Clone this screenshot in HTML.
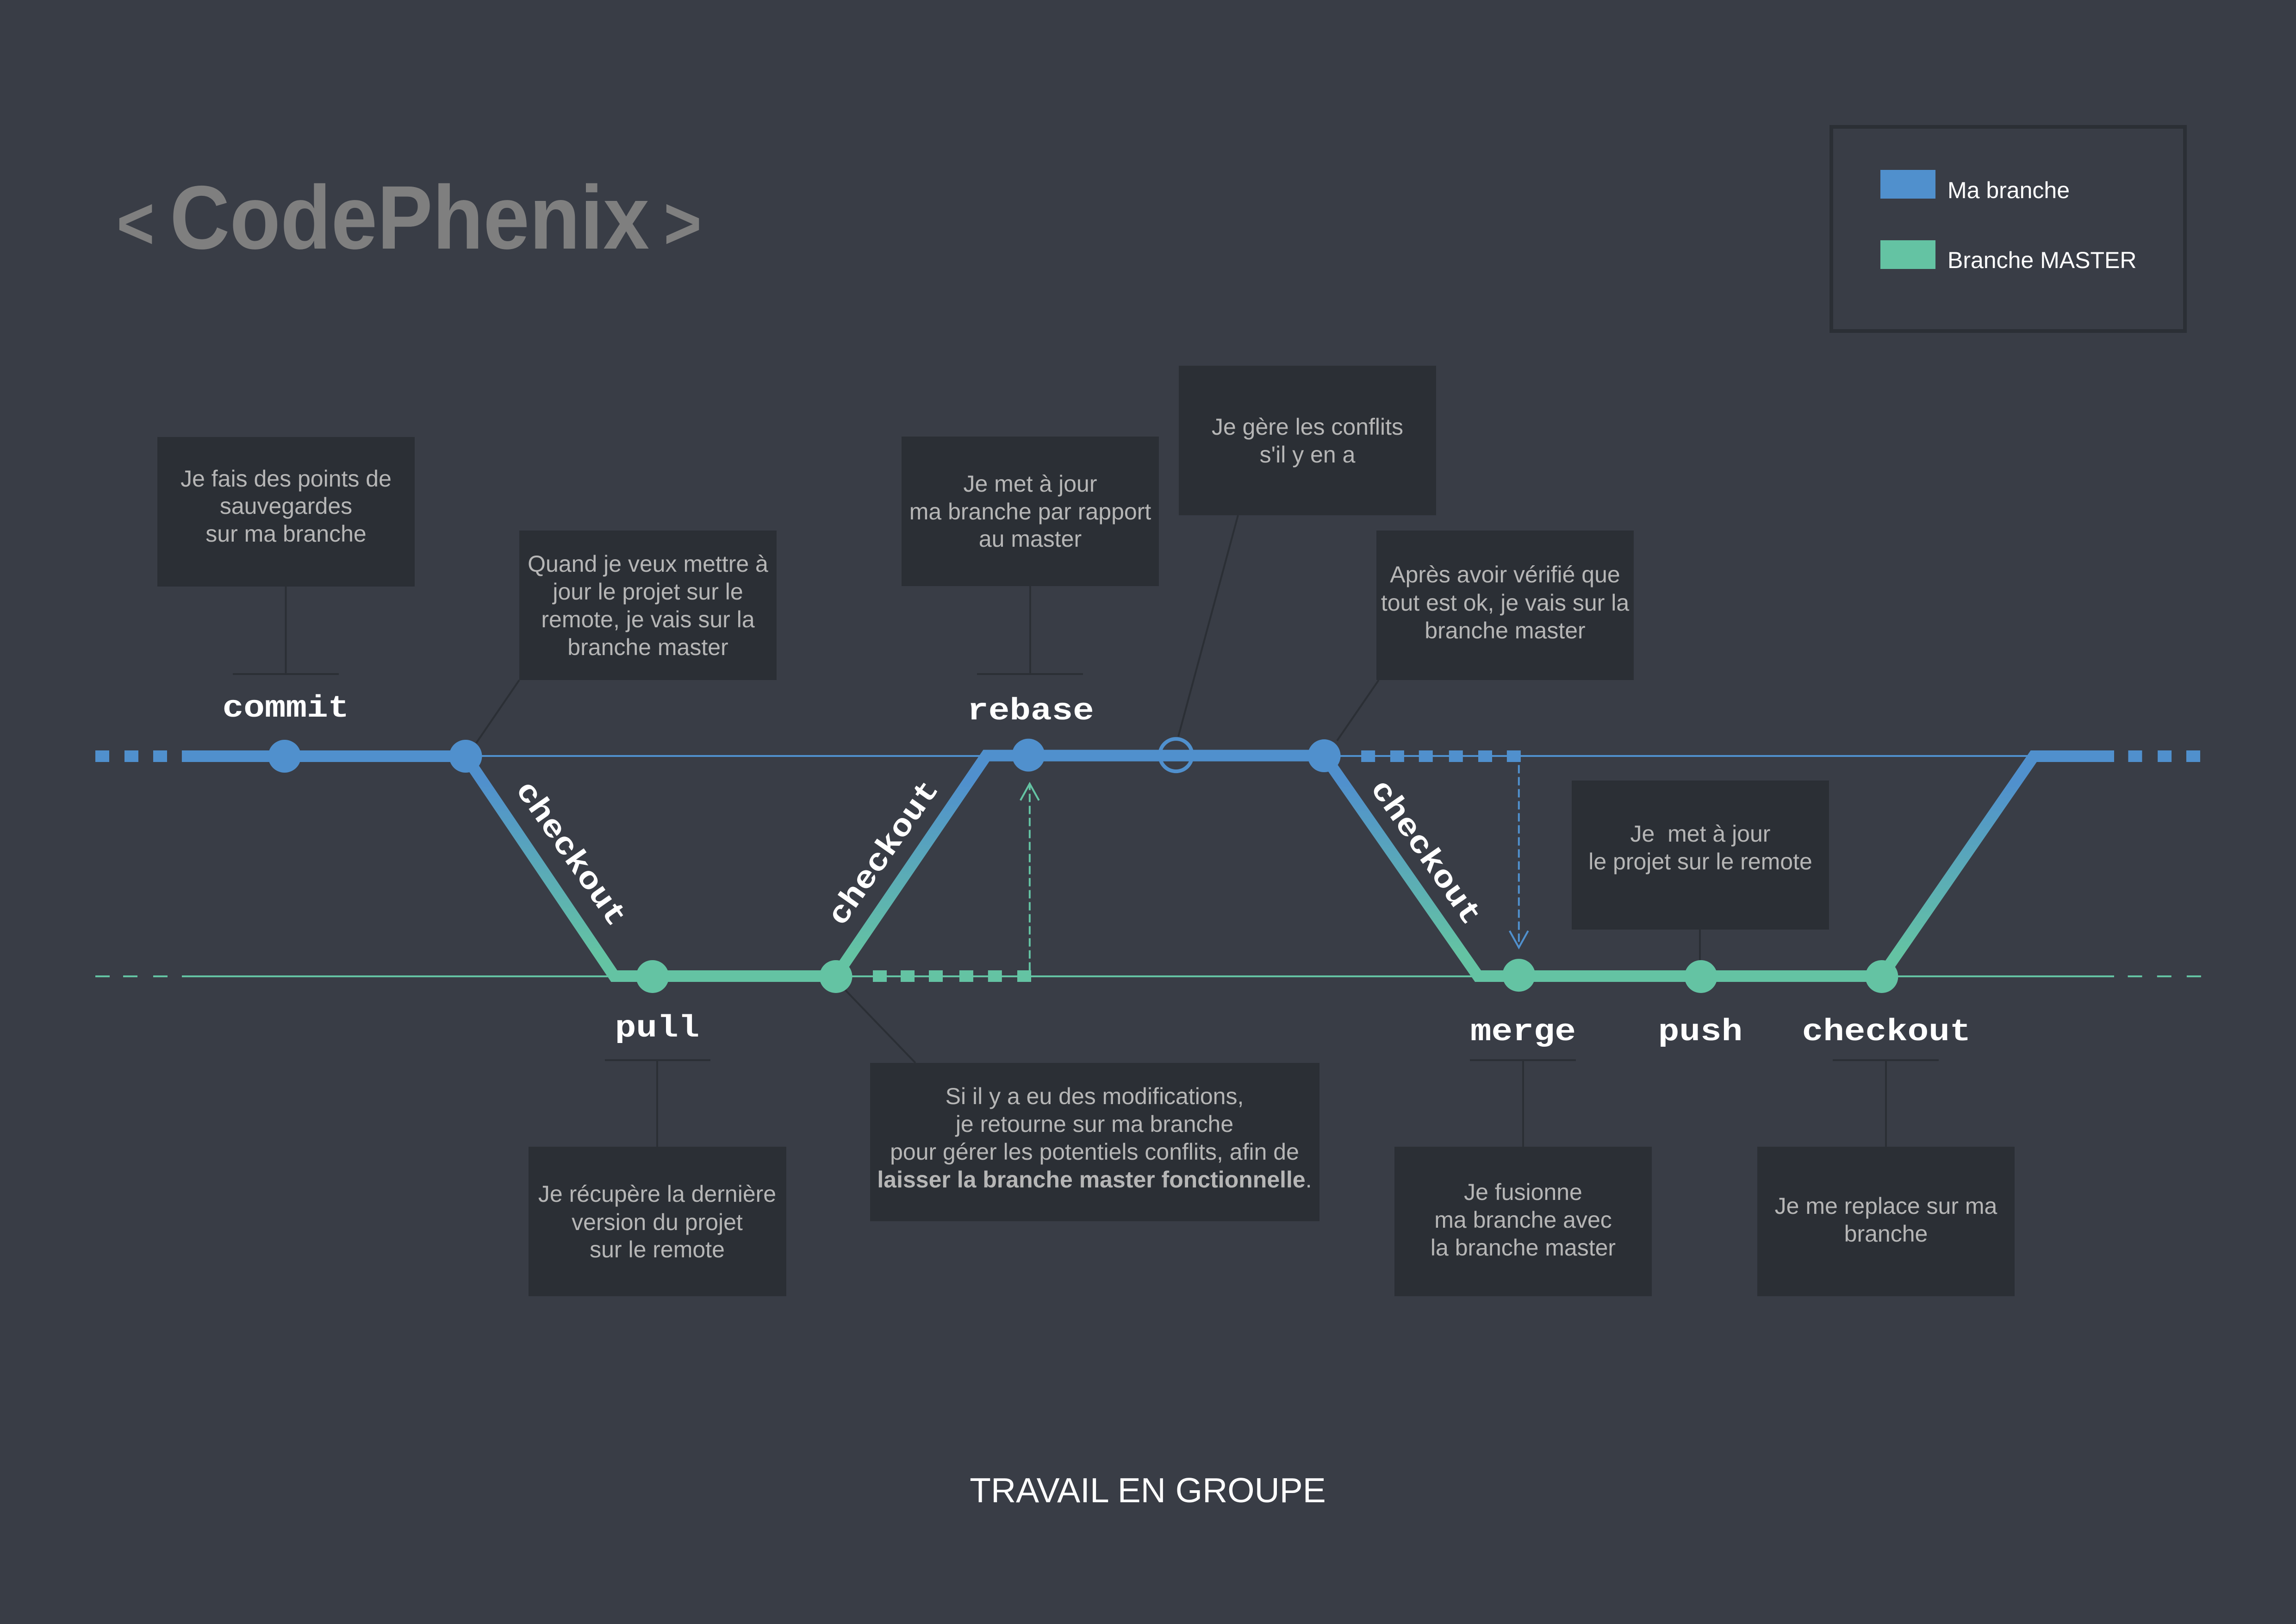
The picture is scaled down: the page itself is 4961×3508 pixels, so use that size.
<!DOCTYPE html>
<html lang="fr">
<head>
<meta charset="utf-8">
<title>Travail en groupe</title>
<style>
html,body{margin:0;padding:0;background:#393d46;}
svg{display:block;}
.note{font-family:"Liberation Sans",sans-serif;font-size:50px;fill:#b6b6b6;text-anchor:middle;white-space:pre;}
.cmd{font-family:"Liberation Mono",monospace;font-weight:bold;font-size:67px;fill:#ffffff;text-anchor:middle;}
.box{fill:#2b2f35;}
.link{stroke:#2b2f35;stroke-width:4;fill:none;}
.legend-text{font-family:"Liberation Sans",sans-serif;font-size:50px;fill:#ffffff;}
.logo{font-family:"Liberation Sans",sans-serif;font-weight:bold;fill:#7f7f7f;}
</style>
</head>
<body>
<svg id="diagram" xmlns="http://www.w3.org/2000/svg" width="4961" height="3508" viewBox="0 0 4961 3508">
  <defs>
    <linearGradient id="branchGradient" gradientUnits="userSpaceOnUse" x1="0" y1="1690" x2="0" y2="2060">
      <stop offset="0" stop-color="#5090cd"/>
      <stop offset="1" stop-color="#64c3a3"/>
    </linearGradient>
  </defs>
  <rect x="0" y="0" width="4961" height="3508" fill="#393d46"/>

  <g>
    <text class="logo" x="293" y="537" font-size="160" text-anchor="middle" textLength="82" lengthAdjust="spacingAndGlyphs">&lt;</text>
    <text class="logo" x="367" y="537" font-size="195" textLength="1036" lengthAdjust="spacingAndGlyphs">CodePhenix</text>
    <text class="logo" x="1475" y="537" font-size="160" text-anchor="middle" textLength="82" lengthAdjust="spacingAndGlyphs">&gt;</text>
  </g>

  <g>
    <rect x="3957" y="274" width="764" height="441" fill="none" stroke="#2b2f35" stroke-width="8"/>
    <rect x="4063" y="367" width="119" height="62" fill="#5090cd"/>
    <text class="legend-text" x="4208" y="428">Ma branche</text>
    <rect x="4063" y="519" width="119" height="62" fill="#64c3a3"/>
    <text class="legend-text" x="4208" y="579">Branche MASTER</text>
  </g>

  <g>
    <path class="link" d="M617.5 1267V1456M503 1456H732"/>
    <path class="link" d="M1029 1605L1122 1469"/>
    <path class="link" d="M2226 1266V1456M2111 1456H2340"/>
    <path class="link" d="M2546 1591L2675 1113"/>
    <path class="link" d="M2889 1600L2979 1469"/>
    <path class="link" d="M3673 2008V2080"/>
    <path class="link" d="M1420 2477V2290M1307 2290H1535"/>
    <path class="link" d="M1823 2135L1978 2296"/>
    <path class="link" d="M3291 2477V2290M3176 2290H3405"/>
    <path class="link" d="M4075 2477V2290M3960 2290H4189"/>
  </g>

  <g id="branches"></g>

  <g>
    <g>
      <rect class="box" x="340" y="944" width="556" height="323"/>
      <text class="note" x="618" y="1051">Je fais des points de</text>
      <text class="note" x="618" y="1110">sauvegardes</text>
      <text class="note" x="618" y="1170">sur ma branche</text>
    </g>
    <g>
      <rect class="box" x="1122" y="1146" width="556" height="323"/>
      <text class="note" x="1400" y="1235">Quand je veux mettre à</text>
      <text class="note" x="1400" y="1295">jour le projet sur le</text>
      <text class="note" x="1400" y="1355">remote, je vais sur la</text>
      <text class="note" x="1400" y="1415">branche master</text>
    </g>
    <g>
      <rect class="box" x="1948" y="943" width="556" height="323"/>
      <text class="note" x="2226" y="1062">Je met à jour</text>
      <text class="note" x="2226" y="1122">ma branche par rapport</text>
      <text class="note" x="2226" y="1181">au master</text>
    </g>
    <g>
      <rect class="box" x="2547" y="790" width="556" height="323"/>
      <text class="note" x="2825" y="939">Je gère les conflits</text>
      <text class="note" x="2825" y="999">s'il y en a</text>
    </g>
    <g>
      <rect class="box" x="2974" y="1146" width="556" height="323"/>
      <text class="note" x="3252" y="1258">Après avoir vérifié que</text>
      <text class="note" x="3252" y="1319">tout est ok, je vais sur la</text>
      <text class="note" x="3252" y="1379">branche master</text>
    </g>
    <g>
      <rect class="box" x="3396" y="1686" width="556" height="322"/>
      <text class="note" x="3674" y="1818">Je  met à jour</text>
      <text class="note" x="3674" y="1878">le projet sur le remote</text>
    </g>
    <g>
      <rect class="box" x="1142" y="2477" width="557" height="323"/>
      <text class="note" x="1420" y="2596">Je récupère la dernière</text>
      <text class="note" x="1420" y="2657">version du projet</text>
      <text class="note" x="1420" y="2716">sur le remote</text>
    </g>
    <g>
      <rect class="box" x="1880" y="2296" width="971" height="342"/>
      <text class="note" x="2365" y="2385">Si il y a eu des modifications,</text>
      <text class="note" x="2365" y="2445">je retourne sur ma branche</text>
      <text class="note" x="2365" y="2505">pour gérer les potentiels conflits, afin de</text>
      <text class="note" x="2365" y="2565"><tspan font-weight="bold">laisser la branche master fonctionnelle</tspan>.</text>
    </g>
    <g>
      <rect class="box" x="3013" y="2477" width="556" height="323"/>
      <text class="note" x="3291" y="2592">Je fusionne</text>
      <text class="note" x="3291" y="2652">ma branche avec</text>
      <text class="note" x="3291" y="2712">la branche master</text>
    </g>
    <g>
      <rect class="box" x="3797" y="2477" width="556" height="323"/>
      <text class="note" x="4075" y="2622">Je me replace sur ma</text>
      <text class="note" x="4075" y="2682">branche</text>
    </g>
  </g>

  <g>
    <text class="cmd" x="617.5" y="1548" textLength="273.6" lengthAdjust="spacingAndGlyphs">commit</text>
    <text class="cmd" x="2227" y="1554" textLength="273.6" lengthAdjust="spacingAndGlyphs">rebase</text>
    <text class="cmd" x="1420" y="2239" textLength="182.4" lengthAdjust="spacingAndGlyphs">pull</text>
    <text class="cmd" x="3291" y="2247" textLength="228" lengthAdjust="spacingAndGlyphs">merge</text>
    <text class="cmd" x="3674" y="2247" textLength="182.4" lengthAdjust="spacingAndGlyphs">push</text>
    <text class="cmd" x="4076" y="2247" textLength="364.8" lengthAdjust="spacingAndGlyphs">checkout</text>
    <text class="cmd" y="16" textLength="364.8" lengthAdjust="spacingAndGlyphs" transform="translate(1231 1846) rotate(55)">checkout</text>
    <text class="cmd" y="16" textLength="364.8" lengthAdjust="spacingAndGlyphs" transform="translate(1912 1844) rotate(-55)">checkout</text>
    <text class="cmd" y="16" textLength="364.8" lengthAdjust="spacingAndGlyphs" transform="translate(3078 1843) rotate(55)">checkout</text>
  </g>

  <text x="2480" y="3245" font-family="'Liberation Sans',sans-serif" font-size="75" fill="#ffffff" text-anchor="middle">TRAVAIL EN GROUPE</text>
</svg>

<script>
// Workflow events along the timeline (0-100) and on a lane (0 = my branch, 1 = master)
const eventNames = ['commit','to-master','pull','to-branch','rebase','conflicts','verified','merge','push','checkout'];
const eventTime  = [8.99,17.59,26.47,35.18,44.33,51.34,58.38,67.63,76.28,84.87];
const eventLane  = [0,0,1.002,1.002,-0.005,-0.005,-0.002,0.996,1.002,1.002];
const eventOpen  = [0,0,0,0,0,1,0,0,0,0];

// Active route of the work through both branches
const routeTime = [4.11,17.59,24.65,35.18,42.33,58.38,65.69,84.87,92.09,95.91];
const routeLane = [0,0,1,1,-0.003,-0.003,1,1,0,0];

// Dotted stubs, timeline starts
const myStubTime      = [0,1.385,2.748,60.14,61.52,62.88,64.31,65.70,67.06,96.58,97.98,99.34];
const masterStubTime  = [36.94,38.26,39.60,41.05,42.41,43.80];
const myGhostTime     = [17.59,92.09];
const masterGhostTime = [4.11,95.91];
const masterDashTime  = [0,1.32,2.748,96.56,97.95,99.36];

// Sync arrows: timeline position and lane start/end
const arrowTime      = [44.39,67.63];
const arrowFromLane  = [0.975,0.04];
const arrowToLane    = [0.125,0.87];
const arrowBranch    = ['master','my'];

const COLORS = {my:'#5090cd', master:'#64c3a3'};
const xOf = t => 206 + t * 45.48;
const yOf = lane => 1633.5 + 475 * lane;
const SVGNS = 'http://www.w3.org/2000/svg';
const root = document.getElementById('branches');

function make(tag, attrs) {
  const node = document.createElementNS(SVGNS, tag);
  for (const k in attrs) node.setAttribute(k, attrs[k]);
  root.appendChild(node);
  return node;
}

// thin reference lines
{
  const el = make('line', {x1:xOf(myGhostTime[0]), x2:xOf(myGhostTime[1]), y1:yOf(0)-0.5, y2:yOf(0)-0.5, stroke:COLORS.my, 'stroke-width':4});
  
  
}
{
  const el = make('line', {x1:xOf(masterGhostTime[0]), x2:xOf(masterGhostTime[1]), y1:yOf(1)+0.5, y2:yOf(1)+0.5, stroke:COLORS.master, 'stroke-width':4});
  
  
}

// thin dashes on master ends
masterDashTime.forEach(t => {
  const el = make('line', {x1:xOf(t), x2:xOf(t)+31, y1:yOf(1)+0.5, y2:yOf(1)+0.5, stroke:COLORS.master, 'stroke-width':4});
  
  
});

// thick stubs
myStubTime.forEach(t => {
  const el = make('line', {x1:xOf(t), x2:xOf(t)+30, y1:yOf(0), y2:yOf(0), stroke:COLORS.my, 'stroke-width':25});
  
  
});
masterStubTime.forEach(t => {
  const el = make('line', {x1:xOf(t), x2:xOf(t)+30, y1:yOf(1), y2:yOf(1), stroke:COLORS.master, 'stroke-width':25});
  
  
});

// active route
{
  const pts = routeTime.map((t, i) => xOf(t) + ',' + yOf(routeLane[i])).join(' ');
  const el = make('polyline', {points:pts, fill:'none', stroke:'url(#branchGradient)', 'stroke-width':25, 'stroke-linejoin':'miter'});
  
  
}

// dashed sync arrows
arrowTime.forEach((t, i) => {
  const x = xOf(t), y1 = yOf(arrowFromLane[i]), y2 = yOf(arrowToLane[i]);
  const dir = y2 > y1 ? 1 : -1;
  const c = COLORS[arrowBranch[i]];
  const shaft = make('line', {x1:x, x2:x, y1:y1, y2:y2, stroke:c, 'stroke-width':4, 'stroke-dasharray':'18 8'});
  
  
  const head = make('path', {d:'M'+(x-20)+' '+(y2-dir*36)+'L'+x+' '+y2+'L'+(x+20)+' '+(y2-dir*36), fill:'none', stroke:c, 'stroke-width':4});
  
  
});

// commit nodes
eventNames.forEach((name, i) => {
  const c = eventLane[i] > 0.5 ? COLORS.master : COLORS.my;
  const open = eventOpen[i] === 1;
  const el = make('circle', {cx:xOf(eventTime[i]), cy:yOf(eventLane[i]), r:open ? 35 : 35.5, fill:open ? 'none' : c, stroke:open ? c : 'none', 'stroke-width':open ? 8 : 0});
  
  
});
</script>
</body>
</html>
